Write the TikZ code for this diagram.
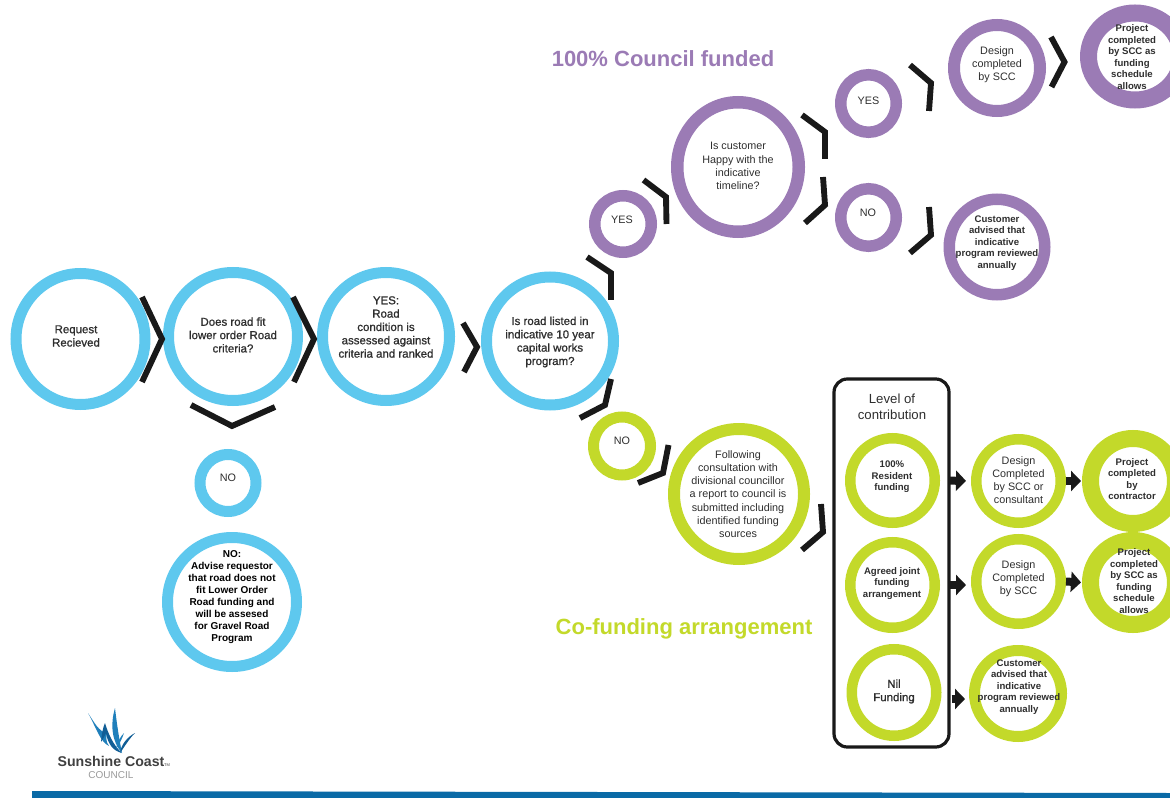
\documentclass[tikz,border=0pt]{standalone}
\usepackage{fontspec}
\setmainfont{Liberation Sans}
\newfontfamily\medfont[FakeBold=1]{Liberation Sans}
\usetikzlibrary{shapes.geometric,arrows.meta}
\definecolor{cblue}{HTML}{5EC8EE}
\definecolor{cpurple}{HTML}{9B7BB5}
\definecolor{cgreen}{HTML}{C3D92A}
\definecolor{ctext}{HTML}{2E2E2E}
\definecolor{cbar}{HTML}{0A6AA6}
\definecolor{clogo}{HTML}{1F7FBB}
\definecolor{clogod}{HTML}{115E96}
\tikzset{
  ringnode/.style={ellipse,draw,inner sep=0pt,fill=none},
  treg/.style={align=center,text=ctext,inner sep=0pt,font=\fontsize{8.1}{9.9}\selectfont},
  tmed/.style={align=center,text=ctext,inner sep=0pt,font=\medfont\fontsize{8.6}{10}\selectfont},
  tadv/.style={align=center,text=black,inner sep=0pt,font=\bfseries\fontsize{7.5}{9}\selectfont},
  tbold/.style={align=center,text=ctext,inner sep=0pt,font=\bfseries\fontsize{7.2}{8.6}\selectfont},
  thead/.style={inner sep=0pt,font=\bfseries\fontsize{16.5}{19}\selectfont},
  chevron/.style={draw=black!90,line width=4.4pt,line cap=butt,line join=miter,miter limit=10},
  blockarrow/.style={draw=black!90,line width=6pt,-{Triangle[length=7.5pt,width=15pt]}},
}
% name, cx, cy, outer rx, outer ry, ring width (all px), colour
\newcommand{\ring}[7]{\node[ringnode,draw=#7,line width={#6*0.75pt},minimum width={(2*#4-#6)*0.75pt},minimum height={(2*#5-#6)*0.75pt}] (#1) at (#2,#3) {};}
% name, x, y, style, text
\newcommand{\lab}[5]{\node[#4] (#1) at (#2,#3) {#5};}
\begin{document}
\begin{tikzpicture}[x=0.75pt,y=-0.75pt]
\useasboundingbox (0,0) rectangle (1170,798);
\clip (0,0) rectangle (1170,798);
% blue
\ring{req}{80.5}{339}{70}{71}{11}{cblue}
\ring{fit}{233}{336.5}{70}{69.5}{11}{cblue}
\ring{cond}{386}{336.5}{69}{69.5}{11}{cblue}
\ring{listed}{550}{341}{69}{69.5}{11}{cblue}
\ring{noa}{228}{483}{33.5}{34}{11}{cblue}
\ring{adv}{232}{602}{70}{70}{11}{cblue}
% purple
\ring{yesa}{623}{224}{34}{34}{11.5}{cpurple}
\ring{happy}{738}{167}{67}{71}{12.5}{cpurple}
\ring{yesb}{868.5}{103.5}{33.5}{34.5}{11.5}{cpurple}
\ring{nob}{868.5}{217.5}{33.5}{34.5}{11.5}{cpurple}
\ring{desa}{997}{68}{49}{49}{12}{cpurple}
\ring{proja}{1135}{56.5}{55}{52}{17}{cpurple}
\ring{cusa}{997}{247}{53.5}{53.5}{11.5}{cpurple}
% green
\ring{noc}{622}{446}{34}{34.5}{11}{cgreen}
\ring{follow}{739}{494}{71}{71}{12}{cgreen}
\node[draw=black!90,line width=2.4pt,rounded corners=10pt,minimum width={115*0.75pt},minimum height={368*0.75pt},inner sep=0pt] (box) at (891.5,563) {};
\ring{res}{892.5}{480.5}{47.5}{47.5}{10.5}{cgreen}
\ring{joint}{892.5}{585}{47.5}{48}{10.5}{cgreen}
\ring{nil}{894}{692.5}{47.5}{48.5}{10.5}{cgreen}
\ring{desb}{1018.5}{481}{47.5}{47}{10.5}{cgreen}
\ring{desc}{1018.5}{581.5}{47.5}{47.5}{10.5}{cgreen}
\ring{cusb}{1018}{693.5}{49}{48.5}{11}{cgreen}
\ring{projb}{1133}{481}{51}{51}{17}{cgreen}
\ring{projc}{1133}{582.5}{51}{50.5}{17}{cgreen}
% chevrons
\draw[chevron] (142,297) -- (162,339) -- (142,382);
\draw[chevron] (293,297) -- (314,339) -- (294,382);
\draw[chevron] (463,323) -- (477,347) -- (464,372);
\draw[chevron] (191,405) -- (232,426) -- (275,407);
\draw[chevron] (587,257) -- (611,273) -- (611,300);
\draw[chevron] (611,379) -- (605,405) -- (580,418);
\draw[chevron] (643.5,180) -- (666,197) -- (666.5,224);
\draw[chevron] (802,115) -- (825,132) -- (825,159);
\draw[chevron] (823,177) -- (825,205) -- (805,223);
\draw[chevron] (910,65) -- (931,83) -- (929,111);
\draw[chevron] (929,207) -- (931,235) -- (910,253);
\draw[chevron] (1051,37) -- (1064.5,62) -- (1051.5,87);
\draw[chevron] (668.5,445) -- (663,473) -- (638,483);
\draw[chevron] (821,504) -- (823,532) -- (802,550);
% arrows
\draw[blockarrow,shorten <=10*0.75pt,shorten >=5*0.75pt] (res.east) -- (desb.west);
\draw[blockarrow,shorten <=10*0.75pt,shorten >=5*0.75pt] (joint.east) -- (joint.east -| desc.west);
\draw[blockarrow,shorten <=10*0.75pt,shorten >=3*0.75pt] (nil.east |- 0,699) -- (968,699);
\draw[blockarrow,shorten >=1*0.75pt] (desb.east) -- (projb.west);
\draw[blockarrow,shorten >=1*0.75pt] (desc.east) -- (projc.west);
% texts
\lab{treq}{76}{336}{tmed}{Request\\Recieved}
\lab{tfit}{233}{335}{tmed}{Does road fit\\lower order Road\\criteria?}
\lab{tcond}{386}{327}{tmed}{YES:\\Road\\condition is\\assessed against\\criteria and ranked}
\lab{tlisted}{550}{342}{tmed}{Is road listed in\\indicative 10 year\\capital works\\program?}
\lab{tnoa}{228}{478}{treg}{NO}
\lab{tadv}{232}{597}{tadv}{NO:\\Advise requestor\\that road does not\\fit Lower Order\\Road funding and\\will be assesed\\for Gravel Road\\Program}
\lab{tyesa}{622}{220}{treg}{YES}
\lab{thappy}{738}{166}{treg}{Is customer\\Happy with the\\indicative\\timeline?}
\lab{tyesb}{868.5}{100.5}{treg}{YES}
\lab{tnob}{868}{212.5}{treg}{NO}
\lab{tdesa}{997}{64.5}{treg}{Design\\completed\\by SCC}
\lab{tproja}{1132}{57}{tbold}{Project\\completed\\by SCC as\\funding\\schedule\\allows}
\lab{tcusa}{997}{243}{tbold}{Customer\\advised that\\indicative\\program reviewed\\annually}
\lab{tnoc}{622}{441}{treg}{NO}
\lab{tfollow}{738}{494}{treg}{Following\\consultation with\\divisional councillor\\a report to council is\\submitted including\\identified funding\\sources}
\node[align=center,text=ctext,inner sep=0pt,font=\fontsize{9.9}{11.6}\selectfont] (tlevel) at (892,407) {Level of\\contribution};
\lab{tres}{892}{477}{tbold}{100\%\\Resident\\funding}
\lab{tjoint}{892}{583.5}{tbold}{Agreed joint\\funding\\arrangement}
\lab{tnil}{894}{691.5}{tmed}{Nil\\Funding}
\lab{tdesb}{1018.5}{480}{treg}{Design\\Completed\\by SCC or\\consultant}
\lab{tdesc}{1018.5}{579}{treg}{Design\\Completed\\by SCC}
\lab{tcusb}{1019}{687}{tbold}{Customer\\advised that\\indicative\\program reviewed\\annually}
\lab{tprojb}{1132}{479}{tbold}{Project\\completed\\by\\contractor}
\lab{tprojc}{1134}{581}{tbold}{Project\\completed\\by SCC as\\funding\\schedule\\allows}
\node[thead,text=cpurple] (hfund) at (663,58.5) {100\% Council funded};
\node[thead,text=cgreen] (hco) at (684,629) {Co-funding arrangement};
% logo
\fill[clogo] (88,713) .. controls (94,722) and (99,732) .. (107,733) .. controls (106,738) and (106,742) .. (109,746) .. controls (100,742) and (96,727) .. (88,713) -- cycle;
\fill[clogod] (101,742) .. controls (102,733) and (103,727) .. (105,723) .. controls (108,733) and (113,745) .. (122,753) .. controls (113,751) and (108,744) .. (106,733) .. controls (105,736) and (103,739) .. (101,742) -- cycle;
\fill[clogo] (115,708) .. controls (110,725) and (112,742) .. (122,753) .. controls (119,738) and (117,725) .. (115,708) -- cycle;
\fill[clogod] (135,733) .. controls (127,737) and (121,745) .. (120,753) .. controls (125,746) and (129,739) .. (135,733) -- cycle;
\fill[clogo] (124,733) .. controls (120,737) and (117,743) .. (116,749) .. controls (119,745) and (122,739) .. (124,733) -- cycle;
\node[inner sep=0pt,text=black!75,font=\bfseries\fontsize{10.6}{13}\selectfont] (lsun) at (111,761) {Sunshine Coast};
\node[inner sep=0pt,text=black!75,font=\fontsize{3}{3}\selectfont] (ltm) at (167,765) {TM};
\node[inner sep=0pt,text=black!40,font=\fontsize{7.5}{9}\selectfont] (lcou) at (111,775) {COUNCIL};
% bottom bar
\fill[cbar] (32,791) -- (1170,793) -- (1170,798) -- (32,798) -- cycle;
\end{tikzpicture}
\end{document}
